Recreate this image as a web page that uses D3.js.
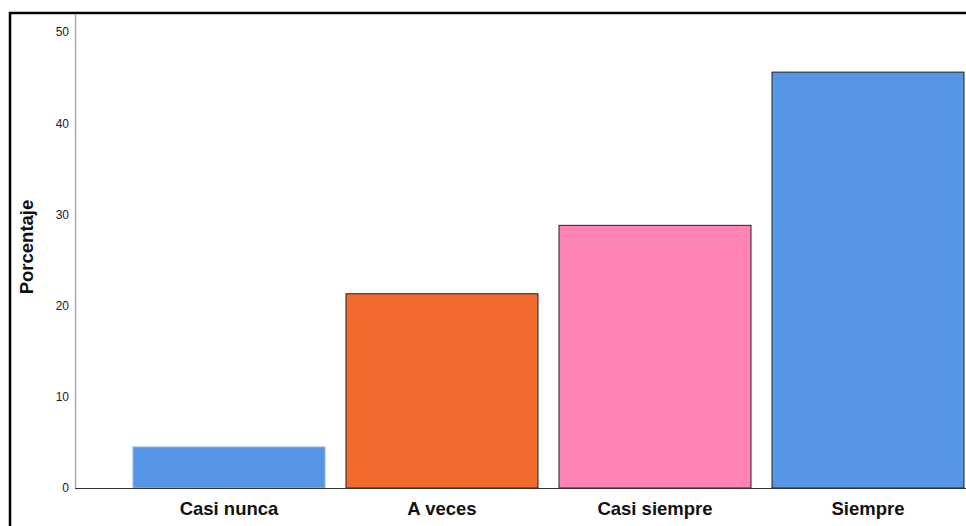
<!DOCTYPE html>
<html>
<head>
<meta charset="utf-8">
<script src="https://cdn.jsdelivr.net/npm/d3@7"></script>
<style>
  body { margin: 0; background: #fff; }
  svg { display: block; font-family: "Liberation Sans", Arial, sans-serif; }
</style>
</head>
<body>
<svg id="chart" width="966" height="526"></svg>
<script>
// categories and percentages
var categories = ['Casi nunca', 'A veces', 'Casi siempre', 'Siempre'];
var values = [4.5, 21.3, 28.8, 45.6];
var barColors = ['#5596e5', '#f26a2c', '#ff84b5', '#5596e5'];
var barStrokes = ['#8fb8ec', '#222', '#222', '#222'];
var yTicks = [0, 10, 20, 30, 40, 50];

(function() {
  var svg = d3.select('#chart');

  // outer frame
  svg.append('rect')
    .attr('x', 10).attr('y', 13)
    .attr('width', 980).attr('height', 540)
    .attr('fill', 'none')
    .attr('stroke', '#000')
    .attr('stroke-width', 2.5);

  var y = d3.scaleLinear().domain([0, 50]).range([488, 32]);
  var x = d3.scaleBand().domain(categories)
    .range([133, 964])
    .paddingInner(21 / 213)
    .paddingOuter(0);

  // y axis
  var yAxis = svg.append('g')
    .attr('transform', 'translate(75,0)')
    .call(d3.axisLeft(y).tickValues(yTicks).tickSize(0).tickPadding(6));
  yAxis.select('.domain').remove();
  yAxis.selectAll('text')
    .style('font-size', '12px')
    .style('font-family', '"Liberation Sans", Arial, sans-serif')
    .attr('fill', '#222');

  svg.append('line')
    .attr('x1', 75.5).attr('x2', 75.5)
    .attr('y1', 14).attr('y2', y(0))
    .attr('stroke', '#aaa').attr('stroke-width', 1.5);

  // bars
  svg.append('g').selectAll('rect')
    .data(values)
    .enter().append('rect')
    .attr('x', function(d, i) { return x(categories[i]); })
    .attr('y', function(d) { return y(d); })
    .attr('width', x.bandwidth())
    .attr('height', function(d) { return y(0) - y(d); })
    .attr('fill', function(d, i) { return barColors[i]; })
    .attr('stroke', function(d, i) { return barStrokes[i]; })
    .attr('stroke-width', 1);

  // x axis baseline
  svg.append('line')
    .attr('x1', 75).attr('x2', 966)
    .attr('y1', y(0) + 0.5).attr('y2', y(0) + 0.5)
    .attr('stroke', '#333').attr('stroke-width', 1.2);

  // category labels
  svg.append('g').selectAll('text')
    .data(categories)
    .enter().append('text')
    .attr('x', function(d) { return x(d) + x.bandwidth() / 2; })
    .attr('y', 515)
    .attr('text-anchor', 'middle')
    .style('font-size', '18.5px')
    .style('font-weight', 'bold')
    .attr('fill', '#111')
    .text(function(d) { return d; });

  // y title
  svg.append('text')
    .attr('transform', 'translate(33,247) rotate(-90)')
    .attr('text-anchor', 'middle')
    .style('font-size', '18.5px')
    .style('font-weight', 'bold')
    .attr('fill', '#111')
    .text('Porcentaje');
})();
</script>
</body>
</html>
